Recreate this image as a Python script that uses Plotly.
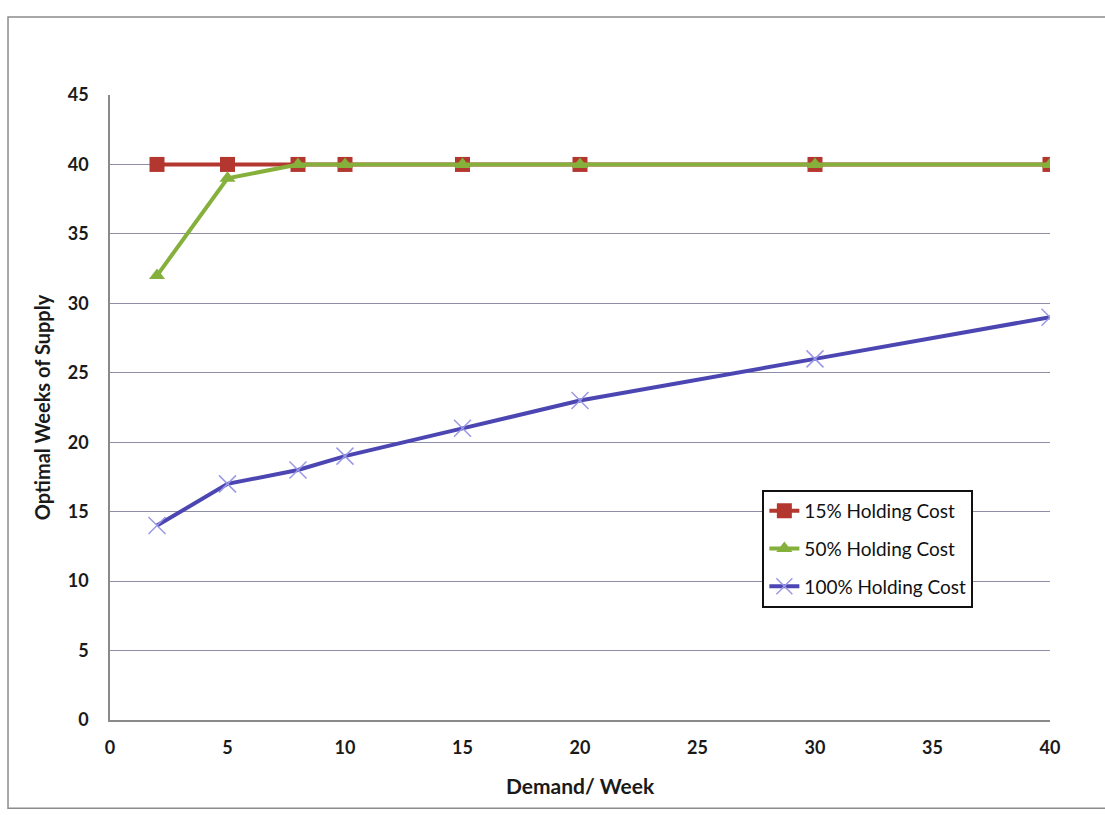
import plotly.graph_objects as go

# Demand per week (x) and optimal weeks of supply for each holding-cost rate
demand = [2, 5, 8, 10, 15, 20, 30, 40]
cost_15 = [40, 40, 40, 40, 40, 40, 40, 40]
cost_50 = [32, 39, 40, 40, 40, 40, 40, 40]
cost_100 = [14, 17, 18, 19, 21, 23, 26, 29]

series_names = ["15% Holding Cost", "50% Holding Cost", "100% Holding Cost"]
x_ticks = [0, 5, 10, 15, 20, 25, 30, 35, 40]
y_ticks = [0, 5, 10, 15, 20, 25, 30, 35, 40, 45]

FONT = "Lato, 'Open Sans', sans-serif"

fig = go.Figure()

fig.add_trace(go.Scatter(
    x=demand, y=cost_15, name=series_names[0], mode="lines+markers",
    legendgroup="a",
    line=dict(color="#B3372E", width=4),
    marker=dict(symbol="square", size=15, color="#B3372E"),
))
fig.add_trace(go.Scatter(
    x=demand, y=cost_50, name=series_names[1], mode="lines+markers",
    legendgroup="b",
    line=dict(color="#86B03C", width=4),
    marker=dict(symbol="triangle-up", size=14, color="#86B03C"),
))
fig.add_trace(go.Scatter(
    x=demand, y=cost_100, name=series_names[2], mode="lines+markers",
    legendgroup="c",
    line=dict(color="#4C46B2", width=4),
    marker=dict(symbol="x-thin", size=17, color="#9a98e6",
                line=dict(color="#9a98e6", width=1.5)),
))

fig.update_layout(
    width=1105, height=815, autosize=False,
    margin=dict(l=110, r=55, t=95, b=95),
    paper_bgcolor="white", plot_bgcolor="white",
    font=dict(family=FONT, color="#1a1a1a"),
    showlegend=True,
    legend=dict(
        x=0.694, y=0.368, xanchor="left", yanchor="top",
        bordercolor="#111111", borderwidth=2, bgcolor="white",
        font=dict(family=FONT, size=19, color="#111111"),
        traceorder="grouped", tracegroupgap=10,
    ),
    xaxis=dict(
        range=[0, 40], tickvals=x_ticks, showgrid=False, zeroline=False,
        showline=True, linecolor="#8a8a8a", linewidth=1.5, ticks="",
        tickfont=dict(family=FONT, size=18, color="#1a1a1a", weight="bold"),
        ticklabelstandoff=11,
        title=dict(text="Demand/ Week", standoff=22,
                   font=dict(family=FONT, size=21, color="#1a1a1a", weight="bold")),
    ),
    yaxis=dict(
        range=[0, 45], tickvals=y_ticks, showgrid=True,
        gridcolor="#8e8ea6", gridwidth=1, zeroline=False,
        showline=True, linecolor="#8a8a8a", linewidth=1.5, ticks="",
        tickfont=dict(family=FONT, size=18, color="#1a1a1a", weight="bold"),
        ticklabelstandoff=16,
        title=dict(text="Optimal Weeks of Supply", standoff=12,
                   font=dict(family=FONT, size=20, color="#1a1a1a", weight="bold")),
    ),
    shapes=[
        # outer chart-area frame
        dict(type="rect", xref="paper", yref="paper",
             x0=-0.1085, x1=1.07, y0=-0.141, y1=1.125,
             line=dict(color="#8c8c8c", width=1.5), layer="below"),
    ],
)

fig.write_html("out.html")
